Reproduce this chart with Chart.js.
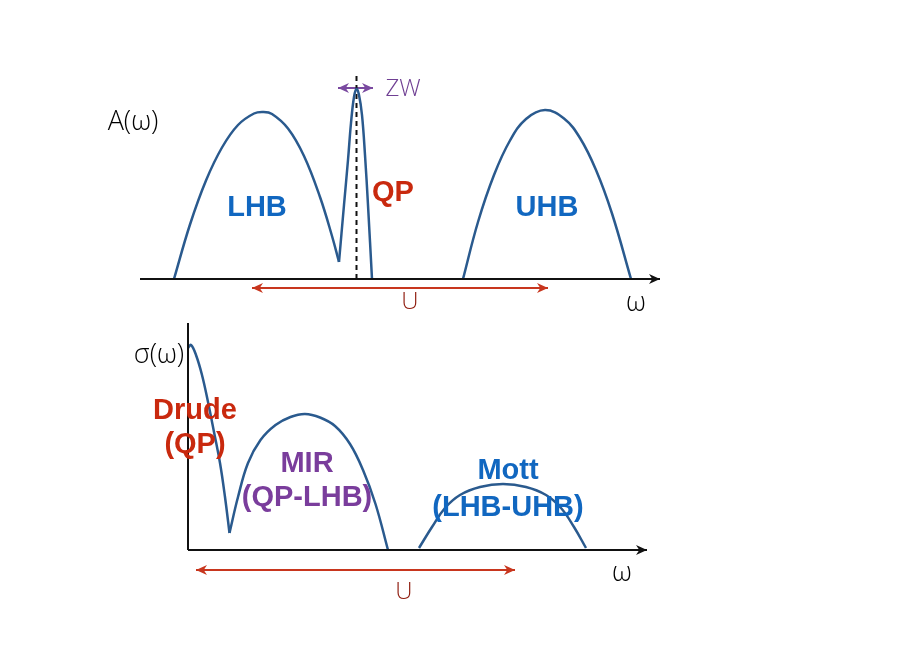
<!DOCTYPE html>
<html>
<head>
<meta charset="utf-8">
<script src="https://cdn.jsdelivr.net/npm/chart.js@4.4.1/dist/chart.umd.min.js"></script>
<style>
    html, body { margin: 0; padding: 0; background: #fff; }
    #wrap { position: relative; width: 913px; height: 646px; }
    #wrap canvas { position: absolute; left: 0; }
    #topChart { top: 0; }
    #bottomChart { top: 323px; }
</style>
</head>
<body>
<div id="wrap">
    <canvas id="topChart" width="913" height="323"></canvas>
    <canvas id="bottomChart" width="913" height="323"></canvas>
</div>
<script>
// Spectral function A(w), arbitrary units
const lhbW = [0.68, 1.0, 1.32, 1.64, 1.96, 2.28, 2.46, 2.64, 2.96, 3.28, 3.6, 3.84, 3.98];
const lhbA = [0, 1.09, 1.97, 2.63, 3.08, 3.31, 3.34, 3.3, 3.01, 2.46, 1.64, 0.86, 0.34];
const qpW = [3.98, 4.08, 4.16, 4.22, 4.28, 4.33, 4.38, 4.44, 4.5, 4.56, 4.64];
const qpA = [0.34, 1.48, 2.38, 3.12, 3.64, 3.8, 3.68, 3.28, 2.48, 1.48, 0];
const uhbW = [6.46, 6.76, 7.08, 7.4, 7.72, 8.1, 8.48, 8.8, 9.12, 9.44, 9.82];
const uhbA = [0, 1.14, 2.08, 2.77, 3.2, 3.38, 3.21, 2.82, 2.18, 1.31, 0];
const topAxisW = [0, 10.4];
const fermiW = 4.33, fermiTop = 4.14;
const zwRange = [3.96, 4.66], zwLevel = 3.82;
const topURange = [2.24, 8.16], topULevel = -0.18;

// Optical conductivity sigma(w)
const drudeW = [0, 0.06, 0.16, 0.28, 0.4, 0.52, 0.64, 0.74, 0.83];
const drudeS = [4.04, 4.1, 3.9, 3.5, 2.96, 2.36, 1.74, 1.06, 0.34];
const mirW = [0.83, 1.0, 1.2, 1.45, 1.75, 2.05, 2.34, 2.64, 2.94, 3.24, 3.5, 3.75, 4.0];
const mirS = [0.34, 1.06, 1.74, 2.2, 2.5, 2.66, 2.72, 2.65, 2.48, 2.12, 1.6, 0.92, 0];
const mottW = [4.62, 4.88, 5.14, 5.44, 5.84, 6.3, 6.76, 7.16, 7.46, 7.72, 7.96];
const mottS = [0.04, 0.46, 0.84, 1.1, 1.26, 1.32, 1.26, 1.1, 0.84, 0.46, 0.04];
const bottomAxisW = [0, 9.18];
const bottomAxisS = [0, 4.76];
const bottomURange = [0.16, 6.54], bottomULevel = -0.4;

// labels: [text, w, value, kind]
const topLabels = [
    ['A(ω)', -0.14, 3.14, 'axis'],
    ['LHB', 2.34, 1.42, 'blue'],
    ['QP', 5.06, 1.72, 'red'],
    ['UHB', 8.14, 1.42, 'blue'],
    ['ZW', 5.26, 3.8, 'zw'],
    ['U', 5.4, -0.46, 'u'],
    ['ω', 9.92, -0.48, 'axis']
];
const bottomLabels = [
    ['σ(ω)', -0.58, 3.9, 'axis'],
    ['Drude', 0.14, 2.78, 'red'],
    ['(QP)', 0.14, 2.1, 'red'],
    ['MIR', 2.38, 1.72, 'purple'],
    ['(QP-LHB)', 2.38, 1.04, 'purple'],
    ['Mott', 6.4, 1.58, 'blue'],
    ['(LHB-UHB)', 6.4, 0.84, 'blue'],
    ['U', 4.32, -0.84, 'u'],
    ['ω', 8.68, -0.46, 'axis']
];

const labelStyle = {
    axis:   { color: '#000', font: '300 27px "Open Sans", sans-serif' },
    blue:   { color: '#1167c0', font: 'bold 29px "Liberation Sans", Arial, sans-serif' },
    red:    { color: '#c9290e', font: 'bold 29px "Liberation Sans", Arial, sans-serif' },
    purple: { color: '#7a3d9c', font: 'bold 29px "Liberation Sans", Arial, sans-serif' },
    zw:     { color: '#6f3f93', font: '300 24px "Open Sans", sans-serif' },
    u:      { color: '#8e1a0c', font: '300 24px "Open Sans", sans-serif' }
};

const CURVE = '#2a5a8e';
const AXIS = '#111';
const ARROW_RED = '#c8361e';
const ZW_PURPLE = '#7a4aa0';

const zip = (xs, ys) => xs.map((x, i) => ({ x, y: ys[i] }));

const curve = (xs, ys) => ({
    data: zip(xs, ys),
    borderColor: CURVE,
    borderWidth: 2.5,
    tension: 0.4
});

const straight = (pts, color, width, arrows, dash) => ({
    data: pts,
    borderColor: color,
    backgroundColor: color,
    borderWidth: width,
    borderDash: dash || [],
    arrows: arrows || []
});

const arrowPlugin = {
    id: 'arrowHeads',
    afterDatasetsDraw(chart) {
        const ctx = chart.ctx;
        const sx = chart.scales.x, sy = chart.scales.y;
        chart.data.datasets.forEach(ds => {
            if (!ds.arrows || !ds.arrows.length) return;
            const pts = ds.data.map(p => ({ x: sx.getPixelForValue(p.x), y: sy.getPixelForValue(p.y) }));
            const head = (tip, from) => {
                const ang = Math.atan2(tip.y - from.y, tip.x - from.x);
                const len = 11, half = 5;
                ctx.save();
                ctx.translate(tip.x, tip.y);
                ctx.rotate(ang);
                ctx.beginPath();
                ctx.moveTo(0, 0);
                ctx.lineTo(-len, -half);
                ctx.lineTo(-len * 0.7, 0);
                ctx.lineTo(-len, half);
                ctx.closePath();
                ctx.fillStyle = ds.borderColor;
                ctx.fill();
                ctx.restore();
            };
            if (ds.arrows.includes('end')) head(pts[pts.length - 1], pts[pts.length - 2]);
            if (ds.arrows.includes('start')) head(pts[0], pts[1]);
        });
    }
};

const labelPlugin = {
    id: 'labels',
    afterDraw(chart) {
        const labels = chart.options.plugins.labels.items;
        const ctx = chart.ctx;
        const sx = chart.scales.x, sy = chart.scales.y;
        ctx.save();
        ctx.textAlign = 'center';
        ctx.textBaseline = 'middle';
        labels.forEach(([text, w, v, kind]) => {
            const st = labelStyle[kind];
            ctx.font = st.font;
            ctx.fillStyle = st.color;
            ctx.fillText(text, sx.getPixelForValue(w), sy.getPixelForValue(v));
        });
        ctx.restore();
    }
};

const baseOptions = (xMin, xMax, yMin, yMax, items) => ({
    responsive: false,
    animation: false,
    layout: { padding: 0 },
    elements: { point: { radius: 0, hoverRadius: 0 } },
    scales: {
        x: { type: 'linear', min: xMin, max: xMax, display: false },
        y: { type: 'linear', min: yMin, max: yMax, display: false }
    },
    plugins: {
        legend: { display: false },
        tooltip: { enabled: false },
        labels: { items }
    }
});

// top panel: 50 px per unit, origin at the w axis
new Chart(document.getElementById('topChart'), {
    type: 'scatter',
    data: {
        datasets: [
            straight(zip(topAxisW, [0, 0]), AXIS, 2, ['end']),
            curve(lhbW, lhbA),
            curve(qpW, qpA),
            curve(uhbW, uhbA),
            straight([{ x: fermiW, y: 0 }, { x: fermiW, y: fermiTop }], AXIS, 2, [], [5, 4]),
            straight(zip(zwRange, [zwLevel, zwLevel]), ZW_PURPLE, 2, ['start', 'end']),
            straight(zip(topURange, [topULevel, topULevel]), ARROW_RED, 2, ['start', 'end'])
        ].map(d => ({ showLine: true, ...d }))
    },
    options: baseOptions(-2.8, 15.46, -0.88, 5.58, topLabels),
    plugins: [arrowPlugin, labelPlugin]
});

// bottom panel
new Chart(document.getElementById('bottomChart'), {
    type: 'scatter',
    data: {
        datasets: [
            straight(zip(bottomAxisW, [0, 0]), AXIS, 2, ['end']),
            straight(zip([0, 0], bottomAxisS), AXIS, 2, ['end']),
            curve(drudeW, drudeS),
            curve(mirW, mirS),
            curve(mottW, mottS),
            straight(zip(bottomURange, [bottomULevel, bottomULevel]), ARROW_RED, 2, ['start', 'end'])
        ].map(d => ({ showLine: true, ...d }))
    },
    options: baseOptions(-3.76, 14.5, -1.92, 4.54, bottomLabels),
    plugins: [arrowPlugin, labelPlugin]
});
</script>
</body>
</html>
